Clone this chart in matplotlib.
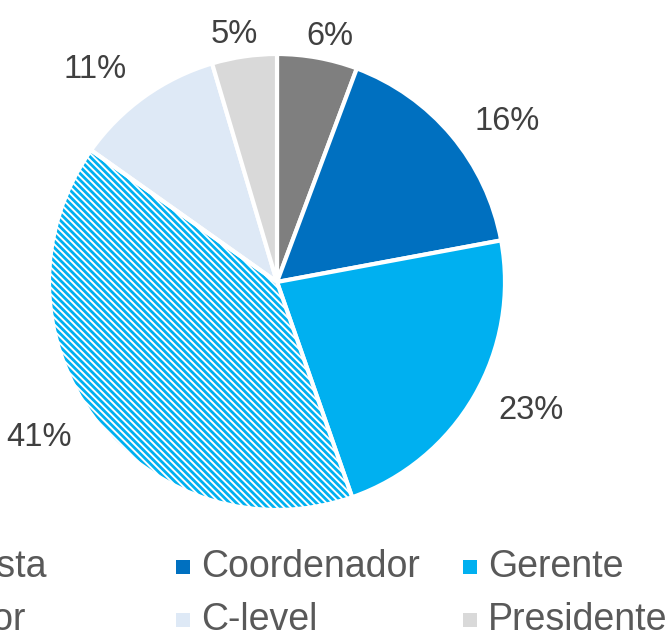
import numpy as np
import matplotlib
matplotlib.use("Agg")
import matplotlib.pyplot as plt
from matplotlib.patches import Rectangle, Wedge

# dados
categorias = ["Analista", "Coordenador", "Gerente", "Diretor", "C-level", "Presidente"]
valores = [5.7, 16.4, 22.6, 40.2, 10.6, 4.6]
rotulos = ["6%", "16%", "23%", "41%", "11%", "5%"]
cores = ["#7f7f7f", "#0070c0", "#00b0f0", "#ffffff", "#dee9f6", "#d9d9d9"]
hachurado = 3  # indice da fatia com listras

plt.rcParams["font.family"] = ["Liberation Sans", "DejaVu Sans"]
plt.rcParams["hatch.linewidth"] = 2.0

W, H = 665, 636
fig = plt.figure(figsize=(W / 100, H / 100), dpi=100)

# centro e raio da pizza em pixels
cx, cy, r = 277, 282, 228
ax = fig.add_axes([(cx - r) / W, (H - cy - r) / H, 2 * r / W, 2 * r / H])

wedges, _ = ax.pie(
    valores,
    colors=cores,
    startangle=90,
    counterclock=False,
    radius=1,
    wedgeprops=dict(edgecolor="white", linewidth=3),
)

# fatia listrada
w = wedges[hachurado]
w.set_edgecolor("#00b0f0")
w.set_hatch("\\" * 5)
w.set_linewidth(0)
borda = Wedge(w.center, w.r, w.theta1, w.theta2, facecolor="none",
              edgecolor="white", linewidth=3, zorder=5)
ax.add_patch(borda)

ax.set_xlim(-1, 1)
ax.set_ylim(-1, 1)
ax.axis("off")

# rotulos percentuais (puxados para os lados, como no Excel)
for w, txt, v in zip(wedges, rotulos, valores):
    ang = np.deg2rad((w.theta1 + w.theta2) / 2)
    ang = np.arctan2(0.85 * np.sin(ang), np.cos(ang))
    d = 1.115 if v < 8 else 1.24
    ax.text(d * np.cos(ang), d * np.sin(ang), txt, ha="center",
            va="center_baseline", fontsize=23.5, color="#404040", clip_on=False)

# legenda manual (cortada nas bordas como no original)
x_col2 = 183
passo = 287
linhas_y = [567, 620]
for i, (cat, cor) in enumerate(zip(categorias, cores)):
    col, lin = i % 3, i // 3
    xm = x_col2 + (col - 1) * passo
    ym = linhas_y[lin]
    face = "#00b0f0" if i == hachurado else cor
    fig.patches.append(Rectangle(((xm - 7) / W, (H - ym - 7) / H), 14 / W, 14 / H,
                                 transform=fig.transFigure, facecolor=face,
                                 edgecolor="none"))
    fig.text((xm + 18) / W, (H - ym) / H, cat, ha="left", va="center",
             fontsize=27, color="#595959")

fig.savefig("out.png", dpi=100)
